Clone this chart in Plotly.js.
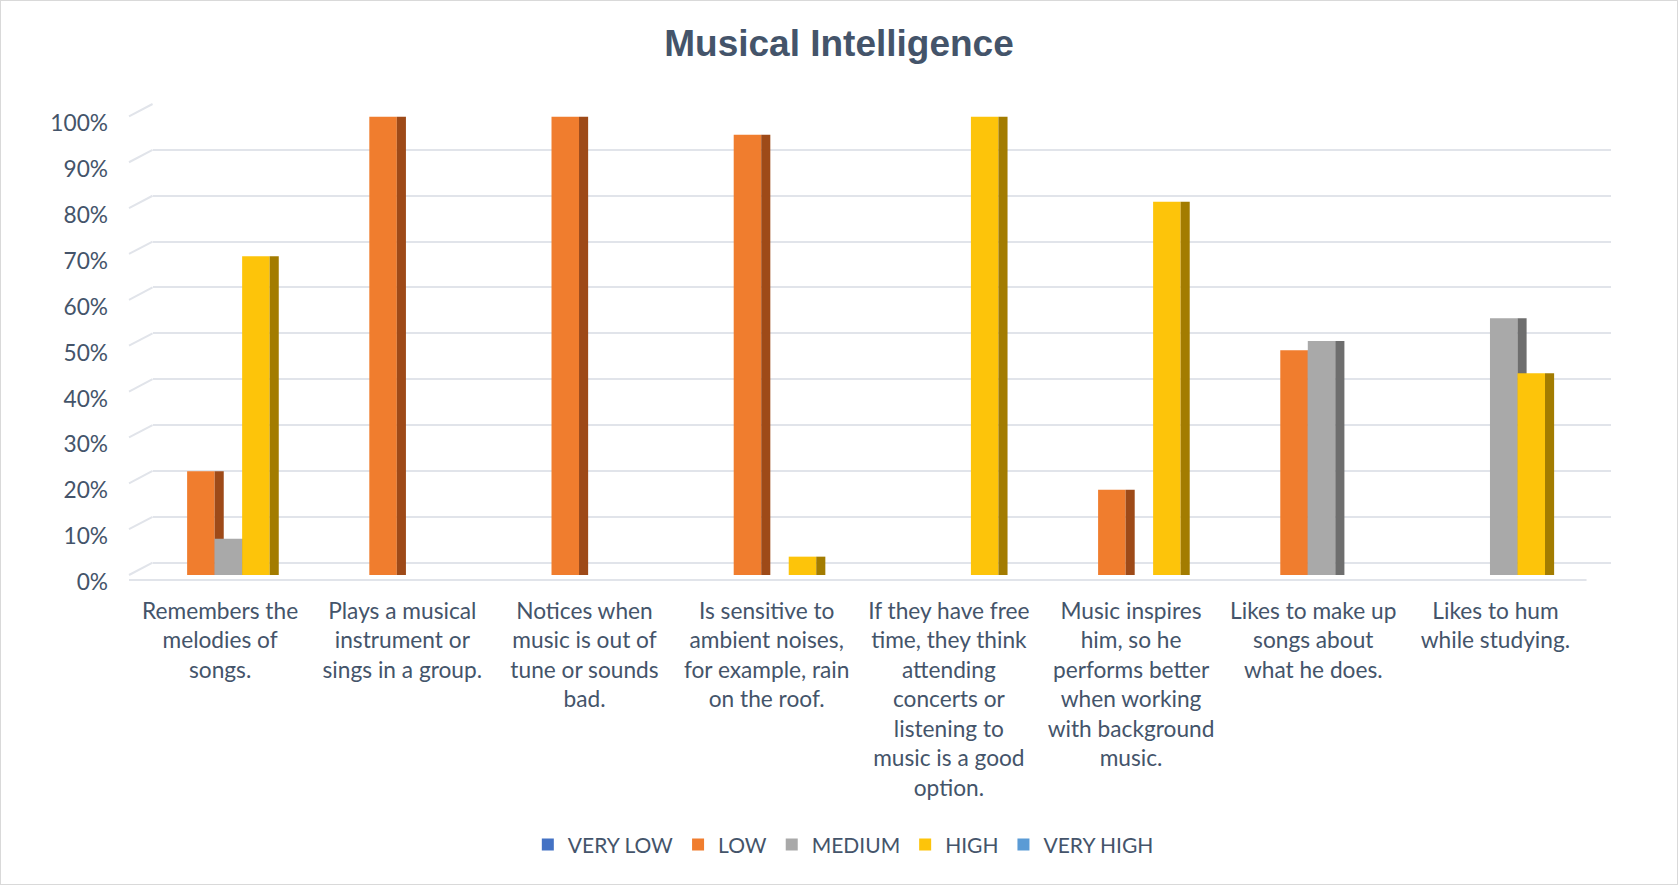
<!DOCTYPE html>
<html>
<head>
<meta charset="utf-8">
<script src="https://cdn.plot.ly/plotly-3.0.1.min.js"></script>
<style>
  html, body { margin: 0; padding: 0; background: #ffffff; overflow: hidden; }
  #wrap { position: relative; width: 1678px; height: 885px; }
  #chart { width: 1678px; height: 885px; }
  #frame { position: absolute; left: 0; top: 0; width: 1676px; height: 883px; border: 1px solid #D9D9D9; pointer-events: none; }
</style>
</head>
<body>
<div id="wrap"><div id="chart"></div><div id="frame"></div></div>
<script>
// ---- data ----
const categories = [
  "Remembers the<br>melodies of<br>songs.",
  "Plays a musical<br>instrument or<br>sings in a group.",
  "Notices when<br>music is out of<br>tune or sounds<br>bad.",
  "Is sensitive to<br>ambient noises,<br>for example, rain<br>on the roof.",
  "If they have free<br>time, they think<br>attending<br>concerts or<br>listening to<br>music is a good<br>option.",
  "Music inspires<br>him, so he<br>performs better<br>when working<br>with background<br>music.",
  "Likes to make up<br>songs about<br>what he does.",
  "Likes to hum<br>while studying."
];
const seriesNames = ["VERY LOW", "LOW", "MEDIUM", "HIGH", "VERY HIGH"];
const veryLow  = [0, 0, 0, 0, 0, 0, 0, 0];
const low      = [22.6, 100, 100, 96, 0, 18.6, 49, 0];
const medium   = [7.9, 0, 0, 0, 0, 0, 51, 56];
const high     = [69.5, 0, 0, 4, 100, 81.4, 0, 44];
const veryHigh = [0, 0, 0, 0, 0, 0, 0, 0];
const yTickValues = [0, 10, 20, 30, 40, 50, 60, 70, 80, 90, 100];

// ---- style ----
const frontColors = ["#4472C4", "#F07D2E", "#A9A9A9", "#FDC40A", "#5B9BD5"];
const sideColors  = ["#2F528F", "#9E4A18", "#6E6E6E", "#A37C00", "#3A6F9E"];
const seriesValues = [veryLow, low, medium, high, veryHigh];
const textColor = "#44546A";
const gridColor = "#E1E4EA";
const fontFam = "Lato, 'Open Sans', sans-serif";
const fontSize = 22.7;

const barW = 0.151;
const sideW = 0.05;
const start = -0.332;

// front plane (bars) and back wall (gridlines) domains
const frontX = [0, 0.9835], frontY = [0, 0.9737];
const backX = [0.0159, 1], backY = [0.0261, 1];

const traces = [];
// back wall subplot (drawn first, underneath the bars)
traces.push({
  type: "scatter", mode: "markers", x: [], y: [],
  xaxis: "x", yaxis: "y", showlegend: false, hoverinfo: "skip"
});
seriesValues.forEach((vals, i) => {
  traces.push({
    type: "bar",
    name: seriesNames[i],
    x: categories,
    y: vals,
    xaxis: "x2", yaxis: "y2",
    width: barW,
    offset: start + i * barW,
    marker: { color: frontColors[i], line: { width: 0 } },
    hoverinfo: "name+y"
  });
  traces.push({
    type: "bar",
    name: seriesNames[i] + " side",
    x: categories,
    y: vals,
    xaxis: "x2", yaxis: "y2",
    width: sideW,
    offset: start + (i + 1) * barW,
    marker: { color: sideColors[i], line: { width: 0 } },
    showlegend: false,
    hoverinfo: "skip"
  });
});

// wall connector lines (front tick -> back gridline) and front floor edge
const shapes = yTickValues.map(v => ({
  type: "line", xref: "paper", yref: "paper",
  x0: frontX[0], y0: frontY[0] + (frontY[1] - frontY[0]) * v / 100,
  x1: backX[0],  y1: backY[0] + (backY[1] - backY[0]) * v / 100,
  line: { color: gridColor, width: 2 }, layer: "below"
}));
shapes.push({
  type: "line", xref: "paper", yref: "paper",
  x0: frontX[0], x1: frontX[1], y0: -0.0106, y1: -0.0106,
  line: { color: gridColor, width: 2 }, layer: "below"
});

const layout = {
  width: 1678,
  height: 885,
  paper_bgcolor: "#ffffff",
  plot_bgcolor: "rgba(0,0,0,0)",
  barmode: "overlay",
  margin: { l: 129, r: 67, t: 104, b: 310, pad: 0 },
  title: {
    text: "<b>Musical Intelligence</b>",
    font: { family: "'Liberation Sans', Arial, sans-serif", size: 37, color: textColor },
    x: 0.5, xref: "container", xanchor: "center",
    y: 0.951, yref: "container", yanchor: "middle"
  },
  // back wall axes (gridlines only)
  xaxis: {
    domain: backX, anchor: "y", type: "linear", range: [0, 1],
    showgrid: false, zeroline: false, showline: false,
    showticklabels: false, ticks: "", fixedrange: true
  },
  yaxis: {
    domain: backY, anchor: "x", range: [0, 100],
    tickvals: yTickValues, showticklabels: false, ticks: "",
    showgrid: true, gridcolor: gridColor, gridwidth: 2,
    zeroline: true, zerolinecolor: gridColor, zerolinewidth: 2,
    showline: false, fixedrange: true
  },
  // front plane axes (bars, labels)
  xaxis2: {
    domain: frontX, anchor: "y2",
    type: "category",
    tickvals: categories,
    ticktext: categories,
    showgrid: false,
    showline: false,
    zeroline: false,
    ticks: "",
    tickangle: 0,
    tickfont: { family: fontFam, size: fontSize, color: textColor },
    ticklabelstandoff: 20,
    range: [-0.5, 7.5],
    fixedrange: true
  },
  yaxis2: {
    domain: frontY, anchor: "x2",
    range: [0, 100],
    tickvals: yTickValues,
    ticktext: yTickValues.map(v => v + "%"),
    showgrid: false,
    zeroline: false,
    showline: false,
    ticks: "",
    ticklabelstandoff: 20,
    ticklabelshift: 7,
    tickfont: { family: fontFam, size: fontSize, color: textColor },
    fixedrange: true
  },
  shapes: shapes,
  legend: {
    orientation: "h",
    x: 0.482, xanchor: "center",
    y: -0.573, yanchor: "middle",
    font: { family: fontFam, size: 21, color: textColor },
    itemwidth: 30,
    traceorder: "normal"
  },
  showlegend: true
};

Plotly.newPlot("chart", traces, layout, { displayModeBar: false, staticPlot: true });
</script>
</body>
</html>
